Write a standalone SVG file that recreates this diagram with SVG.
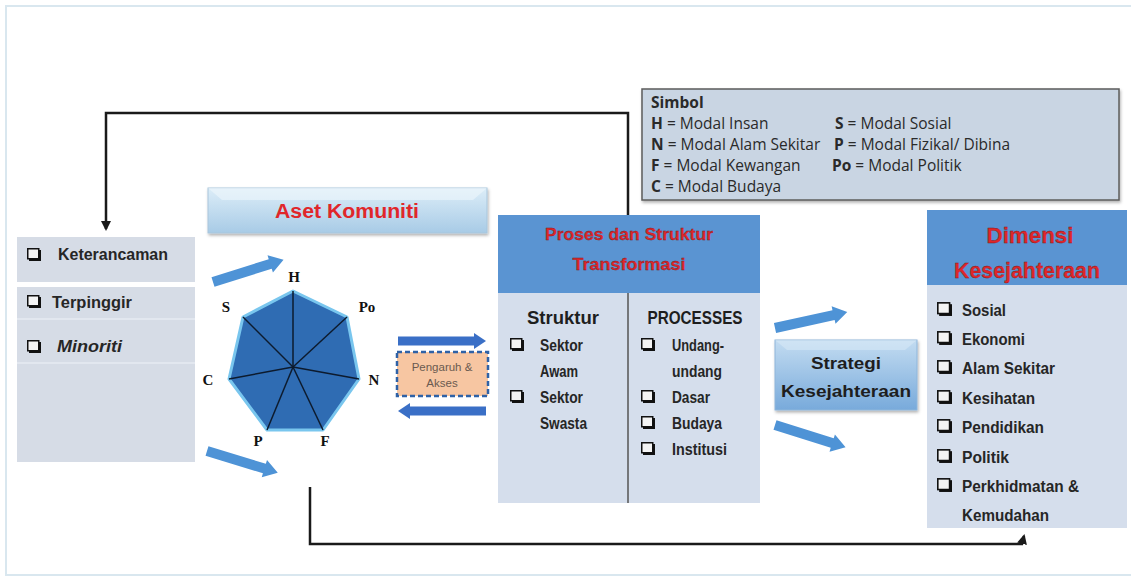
<svg xmlns="http://www.w3.org/2000/svg" xmlns:xlink="http://www.w3.org/1999/xlink" width="1131" height="581" viewBox="0 0 1131 581">
<defs>
<style>
.cond{font-family:"Liberation Sans","DejaVu Sans",sans-serif;font-weight:bold;}
.red{fill:#e0262a;}
.dark{fill:#1e1e1e;}
.item{font-family:"Liberation Sans","DejaVu Sans",sans-serif;font-weight:bold;fill:#262626;font-size:16px;}
.lbl{font-family:"Liberation Serif","Times New Roman",serif;font-weight:bold;font-size:15px;fill:#111;}
.sym{font-family:"Open Sans","Liberation Sans",sans-serif;font-size:15.5px;fill:#2a2a2a;}
.conn{fill:none;stroke:#1a1a1a;stroke-width:2.5;}
.blk{fill:#4e93d6;}
.hblk{fill:#3a6fc6;}
.body{fill:#d5deec;}
.head{fill:#5a94d2;}
</style>
<linearGradient id="gAset" x1="0" y1="0" x2="0" y2="1">
<stop offset="0" stop-color="#dcedf8"/>
<stop offset="1" stop-color="#a8cbe6"/>
</linearGradient>
<linearGradient id="gStr" x1="0" y1="0" x2="0" y2="1">
<stop offset="0" stop-color="#c3dcf1"/>
<stop offset="1" stop-color="#78aadb"/>
</linearGradient>
<filter id="sh" x="-10%" y="-20%" width="120%" height="150%">
<feDropShadow dx="1" dy="2" stdDeviation="1.5" flood-color="#000" flood-opacity="0.3"/>
</filter>
<marker id="ah" viewBox="0 0 10 10" refX="8" refY="5" markerWidth="4" markerHeight="4" orient="auto">
<path d="M0,0 L10,5 L0,10 Z" fill="#1a1a1a"/>
</marker>
<symbol id="cb" viewBox="0 0 14 13" overflow="visible">
<rect x="2" y="2" width="12" height="11" fill="#111"/>
<rect x="0.75" y="0.75" width="11" height="10" fill="#f4f4f4" stroke="#111" stroke-width="1.5"/>
</symbol>
<path id="ba" d="M0,-5 L60,-5 L60,-9 L74,0 L60,9 L60,5 L0,5 Z"/>
<path id="bh" d="M0,-4.5 L76,-4.5 L76,-8 L88,0 L76,8 L76,4.5 L0,4.5 Z"/>
</defs>

<rect x="0" y="0" width="1131" height="581" fill="#ffffff"/>
<rect x="6" y="6" width="1130" height="569" fill="none" stroke="#d9e7ef" stroke-width="2"/>

<g id="connectors">
<path class="conn" d="M628,215 L628,113 L106,113 L106,229" marker-end="url(#ah)"/>
<path class="conn" d="M310,487 L310,544 L1022,544 L1024,536" marker-end="url(#ah)"/>
<use href="#ba" class="blk" transform="translate(213,282) rotate(-17.5)"/>
<use href="#ba" class="blk" transform="translate(207,451) rotate(17)"/>
<use href="#ba" class="blk" transform="translate(775,328) rotate(-12.5)"/>
<use href="#ba" class="blk" transform="translate(775,425) rotate(17.5)"/>
<use href="#bh" class="hblk" transform="translate(398,341)"/>
<use href="#bh" class="hblk" transform="translate(486,411) rotate(180)"/>
</g>

<g id="simbol">
<rect x="642" y="89" width="477" height="111" fill="#c9d5e3" stroke="#5c5c5c" stroke-width="1.5" filter="url(#sh)"/>
<text class="sym" x="651" y="108" font-weight="bold">Simbol</text>
<text class="sym" x="651" y="129"><tspan font-weight="bold">H</tspan> = Modal Insan</text>
<text class="sym" x="835" y="129"><tspan font-weight="bold">S</tspan> = Modal Sosial</text>
<text class="sym" x="651" y="150"><tspan font-weight="bold">N</tspan> = Modal Alam Sekitar</text>
<text class="sym" x="834" y="150"><tspan font-weight="bold">P</tspan> = Modal Fizikal/ Dibina</text>
<text class="sym" x="651" y="171"><tspan font-weight="bold">F</tspan> = Modal Kewangan</text>
<text class="sym" x="832" y="171"><tspan font-weight="bold">Po</tspan> = Modal Politik</text>
<text class="sym" x="651" y="192"><tspan font-weight="bold">C</tspan> = Modal Budaya</text>
</g>

<g id="aset-komuniti">
<rect x="208" y="188" width="279" height="45" fill="url(#gAset)" stroke="#a9c6dc" stroke-width="1" filter="url(#sh)"/>
<path d="M208,188 L222,200 L473,200 L487,188" fill="#eef6fb" opacity="0.6"/>
<text class="cond red" x="347" y="218" font-size="20" text-anchor="middle" textLength="144" lengthAdjust="spacingAndGlyphs">Aset Komuniti</text>
</g>

<g id="kerentanan">
<rect x="17" y="237" width="178" height="225" fill="#d6dce6"/>
<rect x="17" y="282" width="178" height="5" fill="#ffffff"/>
<line x1="17" y1="319" x2="195" y2="319" stroke="#e6ebf2" stroke-width="1.5"/>
<line x1="17" y1="363" x2="195" y2="363" stroke="#e6ebf2" stroke-width="1.5"/>
<use href="#cb" x="27" y="248" width="14" height="13"/>
<text class="item" x="58" y="260" font-size="15" textLength="110" lengthAdjust="spacingAndGlyphs">Keterancaman</text>
<use href="#cb" x="27" y="295" width="14" height="13"/>
<text class="item" x="52" y="308" font-size="15" textLength="80" lengthAdjust="spacingAndGlyphs">Terpinggir</text>
<use href="#cb" x="27" y="340" width="14" height="13"/>
<text class="item" x="57" y="352" font-size="15" font-style="italic" textLength="65" lengthAdjust="spacingAndGlyphs">Minoriti</text>
</g>

<g id="heptagon">
<polygon points="293,291 347,317 359,379 323,430 267,430 229,379 243,317" fill="#2f6cb3" stroke="#79c6ee" stroke-width="3" stroke-linejoin="round"/>
<g stroke="#0d1b2e" stroke-width="1.5">
<line x1="293" y1="367" x2="293" y2="291"/>
<line x1="293" y1="367" x2="347" y2="317"/>
<line x1="293" y1="367" x2="359" y2="379"/>
<line x1="293" y1="367" x2="323" y2="430"/>
<line x1="293" y1="367" x2="267" y2="430"/>
<line x1="293" y1="367" x2="229" y2="379"/>
<line x1="293" y1="367" x2="243" y2="317"/>
</g>
<text class="lbl" x="294" y="282" text-anchor="middle">H</text>
<text class="lbl" x="367" y="312" text-anchor="middle">Po</text>
<text class="lbl" x="374" y="385" text-anchor="middle">N</text>
<text class="lbl" x="325" y="446" text-anchor="middle">F</text>
<text class="lbl" x="258" y="446" text-anchor="middle">P</text>
<text class="lbl" x="208" y="385" text-anchor="middle">C</text>
<text class="lbl" x="226" y="312" text-anchor="middle">S</text>
</g>

<g id="pengaruh-akses">
<rect x="397" y="352" width="91" height="44" fill="#f7c6a2" stroke="#2f62a6" stroke-width="2.5" stroke-dasharray="5,3"/>
<text x="442" y="371" font-family="Liberation Sans, sans-serif" font-size="11.5" fill="#6a5a50" text-anchor="middle">Pengaruh &amp;</text>
<text x="442" y="387" font-family="Liberation Sans, sans-serif" font-size="11.5" fill="#6a5a50" text-anchor="middle">Akses</text>
</g>

<g id="proses-struktur">
<rect x="498" y="215" width="262" height="78" class="head"/>
<rect x="498" y="293" width="262" height="210" class="body"/>
<line x1="628" y1="293" x2="628" y2="503" stroke="#555" stroke-width="1.5"/>
<text class="cond red" x="629" y="240" font-size="17" text-anchor="middle" textLength="168" lengthAdjust="spacingAndGlyphs" stroke="#7a1a1a" stroke-width="0.3">Proses dan Struktur</text>
<text class="cond red" x="629" y="270" font-size="17" text-anchor="middle" textLength="113" lengthAdjust="spacingAndGlyphs" stroke="#7a1a1a" stroke-width="0.3">Transformasi</text>
<text class="cond dark" x="563" y="324" font-size="19" text-anchor="middle" textLength="72" lengthAdjust="spacingAndGlyphs">Struktur</text>
<text class="cond dark" x="695" y="324" font-size="19" text-anchor="middle" textLength="95" lengthAdjust="spacingAndGlyphs">PROCESSES</text>
<use href="#cb" x="510" y="338" width="14" height="13"/>
<text class="item" x="540" y="351" textLength="43" lengthAdjust="spacingAndGlyphs">Sektor</text>
<text class="item" x="540" y="377" textLength="38" lengthAdjust="spacingAndGlyphs">Awam</text>
<use href="#cb" x="510" y="390" width="14" height="13"/>
<text class="item" x="540" y="403" textLength="43" lengthAdjust="spacingAndGlyphs">Sektor</text>
<text class="item" x="540" y="429" textLength="47" lengthAdjust="spacingAndGlyphs">Swasta</text>
<use href="#cb" x="641" y="338" width="14" height="13"/>
<text class="item" x="672" y="351" textLength="52" lengthAdjust="spacingAndGlyphs">Undang-</text>
<text class="item" x="672" y="377" textLength="50" lengthAdjust="spacingAndGlyphs">undang</text>
<use href="#cb" x="641" y="390" width="14" height="13"/>
<text class="item" x="672" y="403" textLength="38" lengthAdjust="spacingAndGlyphs">Dasar</text>
<use href="#cb" x="641" y="416" width="14" height="13"/>
<text class="item" x="672" y="429" textLength="50" lengthAdjust="spacingAndGlyphs">Budaya</text>
<use href="#cb" x="641" y="442" width="14" height="13"/>
<text class="item" x="672" y="455" textLength="55" lengthAdjust="spacingAndGlyphs">Institusi</text>
</g>

<g id="strategi">
<rect x="775" y="340" width="142" height="70" fill="url(#gStr)" stroke="#8fb6da" stroke-width="1" filter="url(#sh)"/>
<path d="M775,340 L787,350 L905,350 L917,340" fill="#dcebf7" opacity="0.5"/>
<text class="cond dark" x="846" y="369" font-size="16" text-anchor="middle" textLength="70" lengthAdjust="spacingAndGlyphs">Strategi</text>
<text class="cond dark" x="846" y="397" font-size="16" text-anchor="middle" textLength="130" lengthAdjust="spacingAndGlyphs">Kesejahteraan</text>
</g>

<g id="dimensi">
<rect x="927" y="210" width="200" height="75" class="head"/>
<rect x="927" y="285" width="200" height="243" class="body"/>
<text class="cond red" x="1030" y="243" font-size="22" text-anchor="middle" textLength="87" lengthAdjust="spacingAndGlyphs" stroke="#7a1a1a" stroke-width="0.3">Dimensi</text>
<text class="cond red" x="1027" y="278" font-size="22" text-anchor="middle" textLength="146" lengthAdjust="spacingAndGlyphs" stroke="#7a1a1a" stroke-width="0.3">Kesejahteraan</text>
<use href="#cb" x="937" y="302" width="15" height="14"/>
<text class="item" x="962" y="316" font-size="17" textLength="44" lengthAdjust="spacingAndGlyphs">Sosial</text>
<use href="#cb" x="937" y="331" width="15" height="14"/>
<text class="item" x="962" y="345" font-size="17" textLength="63" lengthAdjust="spacingAndGlyphs">Ekonomi</text>
<use href="#cb" x="937" y="360" width="15" height="14"/>
<text class="item" x="962" y="374" font-size="17" textLength="93" lengthAdjust="spacingAndGlyphs">Alam Sekitar</text>
<use href="#cb" x="937" y="390" width="15" height="14"/>
<text class="item" x="962" y="404" font-size="17" textLength="73" lengthAdjust="spacingAndGlyphs">Kesihatan</text>
<use href="#cb" x="937" y="419" width="15" height="14"/>
<text class="item" x="962" y="433" font-size="17" textLength="82" lengthAdjust="spacingAndGlyphs">Pendidikan</text>
<use href="#cb" x="937" y="449" width="15" height="14"/>
<text class="item" x="962" y="463" font-size="17" textLength="47" lengthAdjust="spacingAndGlyphs">Politik</text>
<use href="#cb" x="937" y="478" width="15" height="14"/>
<text class="item" x="962" y="492" font-size="17" textLength="117" lengthAdjust="spacingAndGlyphs">Perkhidmatan &amp;</text>
<text class="item" x="962" y="521" font-size="17" textLength="87" lengthAdjust="spacingAndGlyphs">Kemudahan</text>
</g>
</svg>
